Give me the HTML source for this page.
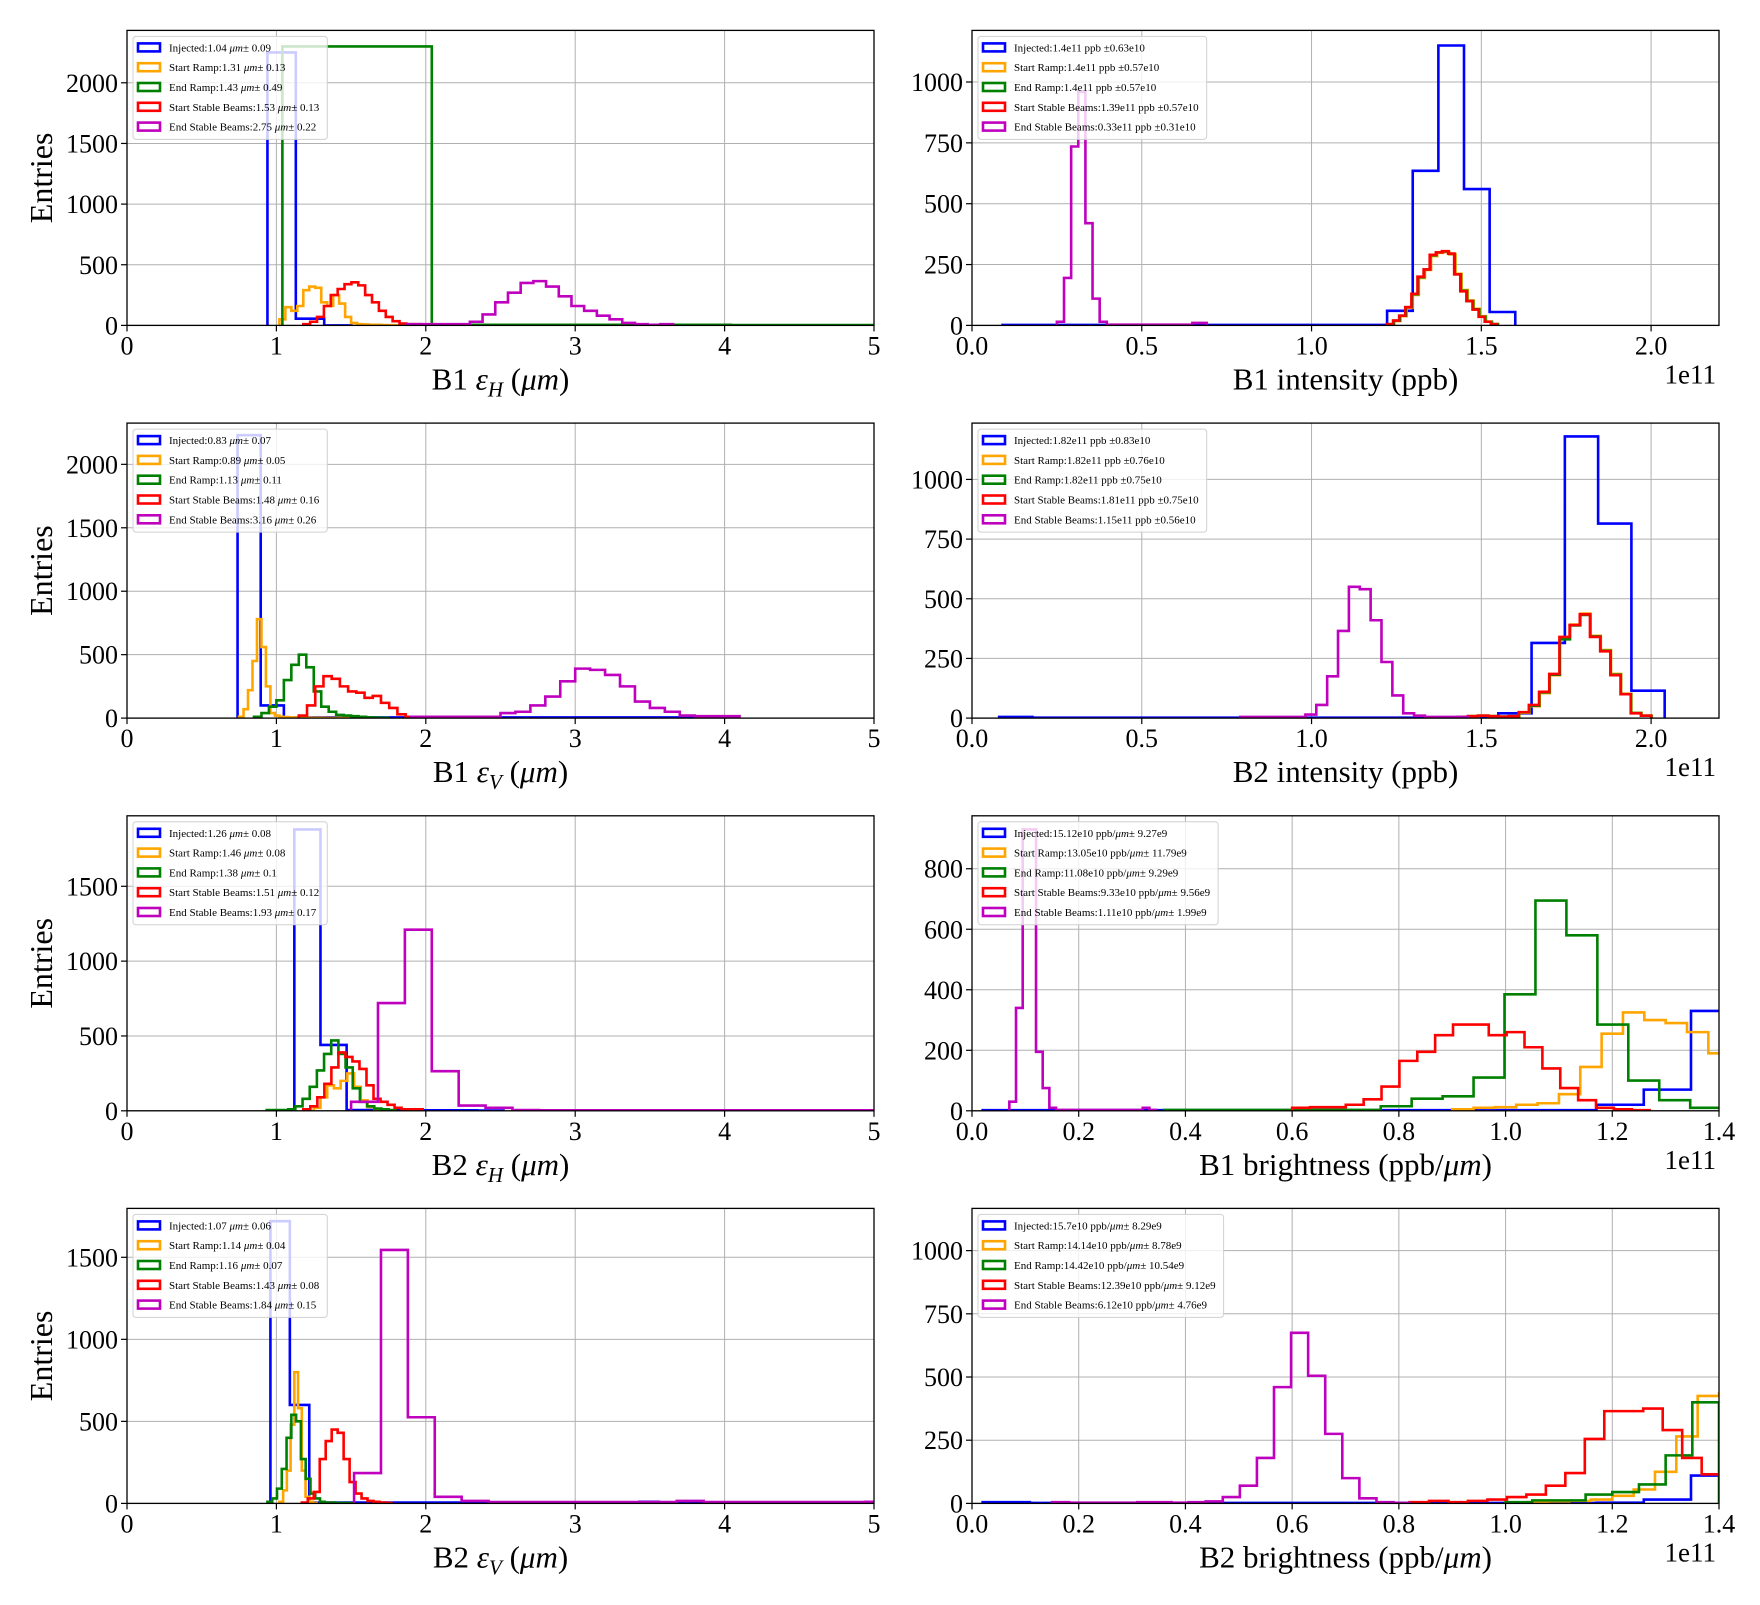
<!DOCTYPE html>
<html><head><meta charset="utf-8"><style>
html,body{margin:0;padding:0;background:#fff;}
svg text{font-family:"Liberation Serif","DejaVu Serif",serif;}
</style></head><body>
<svg id="fig" xmlns="http://www.w3.org/2000/svg" width="1760" height="1600" viewBox="0 0 1760 1600">
<rect x="0" y="0" width="1760" height="1600" fill="#fff"/>
</svg>
<script>
// ---- data: bin starts, bin widths, counts (order: Injected, Start Ramp, End Ramp, Start Stable, End Stable)
const p1Starts = [0.94, 1.02, 1.04, 1.18, 1.87];
const p1Widths = [0.19, 0.04, 1.0, 0.046, 0.085];
const p1Injected = [2250, 55, 0];
const p1StartRamp = [50,150,120,160,290,320,310,190,160,250,180,70,20,10,8,5,5,3,2,1];
const p1EndRamp = [2300, 5, 5, 3];
const p1StartStable = [10,30,70,160,250,300,340,355,330,250,190,120,70,35,15,10,10,8,6,5,4,3,2];
const p1EndStable = [10,10,10,10,10,30,90,190,270,350,365,320,240,160,120,80,50,20,10,5,10];

const p2Starts = [0.09, 1.226, 1.224, 1.222, 0.25];
const p2Widths = [0.0755, 0.018, 0.018, 0.018, 0.021];
const p2Injected = [2,2,2,2,2,2,2,2,2,2,2,2,2,2,2,60,635,1150,560,55];
const p2StartRamp = [5,18,38,72,125,195,228,285,298,302,292,212,145,102,68,38,16,6];
const p2EndRamp = [5,20,40,75,128,198,230,288,300,304,294,210,142,100,66,36,15,5];
const p2StartStable = [5,20,40,75,130,200,230,290,300,305,295,210,140,100,65,35,15,5];
const p2EndStable = [15,195,735,960,420,110,15,3,3,3,3,3,3,3,3,3,3,3,3,10,10];

const p3Starts = [0.74, 0.75, 0.85, 1.15, 1.9];
const p3Widths = [0.155, 0.03, 0.05, 0.055, 0.1];
const p3Injected = [2230,100,5,5,5,5,5,5,5,5,5,5,5,5,5,5,5,5,5,5];
const p3StartRamp = [10,70,220,450,780,560,250,40,20,10,8,6,5,4,3,3,2,2,2,1,1,1,1,1,1];
const p3EndRamp = [10,40,90,140,300,420,500,400,210,90,50,25,20,15,10,5,3,2];
const p3StartStable = [20,100,250,330,310,250,210,200,160,175,120,80,30,10,8,5,5,5,3];
const p3EndStable = [10,10,10,10,10,10,40,50,100,170,290,390,380,340,250,130,80,50,20,15,15,15];

const p4Starts = [0.08, 1.432, 1.431, 1.43, 0.79];
const p4Widths = [0.098, 0.03, 0.03, 0.03, 0.032];
const p4Injected = [5,2,2,2,2,2,2,2,2,2,2,2,2,2,2,20,315,1180,815,115];
const p4StartRamp = [5,8,10,8,6,8,22,50,105,180,335,392,438,345,285,185,102,22,10];
const p4EndRamp = [5,8,10,8,6,8,24,52,108,182,330,388,432,342,282,182,100,21,10];
const p4StartStable = [5,8,10,8,6,8,25,55,110,185,340,390,435,340,280,180,100,20,10];
const p4EndStable = [5,5,5,5,5,5,15,55,175,365,550,540,410,235,95,20,10,5,5,5,5];

const p5Starts = [1.12, 1.25, 0.935, 1.18, 1.5];
const p5Widths = [0.175, 0.045, 0.048, 0.047, 0.18];
const p5Injected = [1880,440,5,3,3,3,3,2];
const p5StartRamp = [20,90,170,150,200,250,160,70,25,10,5];
const p5EndRamp = [5,5,5,10,30,80,160,270,380,470,380,290,150,60,30,15,10,5];
const p5StartStable = [10,30,90,180,290,390,360,330,280,170,80,60,40,20,10,10,10];
const p5EndStable = [60,720,1210,265,35,20,5,3,3,3,3,3,3,3,3,3,3,3,3,3];

const p6Starts = [0.02, 0.9, 0.36, 0.6, 0.07];
const p6Widths = [0.0885, 0.04, 0.058, 0.0335, 0.0125];
const p6Injected = [2,2,2,2,2,2,2,2,2,2,2,2,2,20,70,330];
const p6StartRamp = [5,10,12,20,25,55,145,255,325,300,290,260,190];
const p6EndRamp = [3,3,3,3,3,3,3,15,40,48,110,385,695,580,285,100,35,10];
const p6StartStable = [10,12,12,20,38,80,165,195,250,285,285,250,260,210,140,75,35,10,5,2];
const p6EndStable = [30,340,930,930,195,75,10,3,3,3,3,3,3,3,3,3,3,3,3,3,10,3];

const p7Starts = [0.96, 1.02, 0.94, 1.17, 1.52];
const p7Widths = [0.13, 0.025, 0.032, 0.04, 0.18];
const p7Injected = [1720,600,5,5,5,5,5,5,5,5,5,5,5,5,5,5,5,5,5,10,5,5,5,5,5,5,5,5,5,5,5,5];
const p7StartRamp = [10,80,200,480,800,580,200,40,10,3];
const p7EndRamp = [10,30,90,210,400,540,500,270,150,60,30,10,5,5,3,3,2,2];
const p7StartStable = [5,30,70,270,380,450,430,270,130,60,30,15,10,5,3];
const p7EndStable = [185,1545,525,40,15,8,8,8,8,8,8,8,15,8,8,8,8,8,8,10];

const p8Starts = [0.02, 1.0, 1.0, 0.82, 0.15];
const p8Widths = [0.0885, 0.04, 0.05, 0.0365, 0.032];
const p8Injected = [5,2,2,2,2,2,2,2,2,2,2,2,2,3,15,110];
const p8StartRamp = [3,5,8,10,15,30,55,125,265,425,435];
const p8EndRamp = [5,12,12,35,45,75,190,400];
const p8StartStable = [5,10,5,10,15,25,35,70,120,255,365,365,375,290,180,115,50];
const p8EndStable = [5,3,3,3,3,5,5,3,5,8,25,70,180,460,675,505,275,100,20,5,2];

const p1Legend = ["Injected:1.04 |μm|± 0.09","Start Ramp:1.31 |μm|± 0.13","End Ramp:1.43 |μm|± 0.49","Start Stable Beams:1.53 |μm|± 0.13","End Stable Beams:2.75 |μm|± 0.22"];
const p2Legend = ["Injected:1.4e11 ppb ±0.63e10","Start Ramp:1.4e11 ppb ±0.57e10","End Ramp:1.4e11 ppb ±0.57e10","Start Stable Beams:1.39e11 ppb ±0.57e10","End Stable Beams:0.33e11 ppb ±0.31e10"];
const p3Legend = ["Injected:0.83 |μm|± 0.07","Start Ramp:0.89 |μm|± 0.05","End Ramp:1.13 |μm|± 0.11","Start Stable Beams:1.48 |μm|± 0.16","End Stable Beams:3.16 |μm|± 0.26"];
const p4Legend = ["Injected:1.82e11 ppb ±0.83e10","Start Ramp:1.82e11 ppb ±0.76e10","End Ramp:1.82e11 ppb ±0.75e10","Start Stable Beams:1.81e11 ppb ±0.75e10","End Stable Beams:1.15e11 ppb ±0.56e10"];
const p5Legend = ["Injected:1.26 |μm|± 0.08","Start Ramp:1.46 |μm|± 0.08","End Ramp:1.38 |μm|± 0.1","Start Stable Beams:1.51 |μm|± 0.12","End Stable Beams:1.93 |μm|± 0.17"];
const p6Legend = ["Injected:15.12e10 ppb/|μm|± 9.27e9","Start Ramp:13.05e10 ppb/|μm|± 11.79e9","End Ramp:11.08e10 ppb/|μm|± 9.29e9","Start Stable Beams:9.33e10 ppb/|μm|± 9.56e9","End Stable Beams:1.11e10 ppb/|μm|± 1.99e9"];
const p7Legend = ["Injected:1.07 |μm|± 0.06","Start Ramp:1.14 |μm|± 0.04","End Ramp:1.16 |μm|± 0.07","Start Stable Beams:1.43 |μm|± 0.08","End Stable Beams:1.84 |μm|± 0.15"];
const p8Legend = ["Injected:15.7e10 ppb/|μm|± 8.29e9","Start Ramp:14.14e10 ppb/|μm|± 8.78e9","End Ramp:14.42e10 ppb/|μm|± 10.54e9","Start Stable Beams:12.39e10 ppb/|μm|± 9.12e9","End Stable Beams:6.12e10 ppb/|μm|± 4.76e9"];

const emitTicks = [0,1,2,3,4,5];
const emitTickLabels = ["0","1","2","3","4","5"];
const intTicks = [0,0.5,1.0,1.5,2.0];
const intTickLabels = ["0.0","0.5","1.0","1.5","2.0"];
const brTicks = [0,0.2,0.4,0.6,0.8,1.0,1.2,1.4];
const brTickLabels = ["0.0","0.2","0.4","0.6","0.8","1.0","1.2","1.4"];

const colors = ["#0000ff","#ffa500","#008000","#ff0000","#bf00bf"];
const NS = "http://www.w3.org/2000/svg";
const svg = document.getElementById("fig");
function mk(tag, attrs, parent){ const e=document.createElementNS(NS,tag); for(const k in attrs) e.setAttribute(k,attrs[k]); (parent||svg).appendChild(e); return e; }

const LX=127, RX=972, W=747, H=295;
const TOPS=[30.4,423.1,815.8,1208.4];
const panels = [
 {id:"b1-eh", x:LX, y:TOPS[0], xmax:5, ymax:2432, yt:[0,500,1000,1500,2000], xt:emitTicks, xl:emitTickLabels, starts:p1Starts, widths:p1Widths, series:[p1Injected,p1StartRamp,p1EndRamp,p1StartStable,p1EndStable], legend:p1Legend, label:["B1 ","ε","H"," (","μm",")"], ent:true, e11:false},
 {id:"b1-intensity", x:RX, y:TOPS[0], xmax:2.2, ymax:1212, yt:[0,250,500,750,1000], xt:intTicks, xl:intTickLabels, starts:p2Starts, widths:p2Widths, series:[p2Injected,p2StartRamp,p2EndRamp,p2StartStable,p2EndStable], legend:p2Legend, label:"B1 intensity (ppb)", ent:false, e11:true},
 {id:"b1-ev", x:LX, y:TOPS[1], xmax:5, ymax:2325, yt:[0,500,1000,1500,2000], xt:emitTicks, xl:emitTickLabels, starts:p3Starts, widths:p3Widths, series:[p3Injected,p3StartRamp,p3EndRamp,p3StartStable,p3EndStable], legend:p3Legend, label:["B1 ","ε","V"," (","μm",")"], ent:true, e11:false},
 {id:"b2-intensity", x:RX, y:TOPS[1], xmax:2.2, ymax:1236, yt:[0,250,500,750,1000], xt:intTicks, xl:intTickLabels, starts:p4Starts, widths:p4Widths, series:[p4Injected,p4StartRamp,p4EndRamp,p4StartStable,p4EndStable], legend:p4Legend, label:"B2 intensity (ppb)", ent:false, e11:true},
 {id:"b2-eh", x:LX, y:TOPS[2], xmax:5, ymax:1971, yt:[0,500,1000,1500], xt:emitTicks, xl:emitTickLabels, starts:p5Starts, widths:p5Widths, series:[p5Injected,p5StartRamp,p5EndRamp,p5StartStable,p5EndStable], legend:p5Legend, label:["B2 ","ε","H"," (","μm",")"], ent:true, e11:false},
 {id:"b1-brightness", x:RX, y:TOPS[2], xmax:1.4, ymax:975, yt:[0,200,400,600,800], xt:brTicks, xl:brTickLabels, starts:p6Starts, widths:p6Widths, series:[p6Injected,p6StartRamp,p6EndRamp,p6StartStable,p6EndStable], legend:p6Legend, label:["B1 brightness (ppb/","μm",")"], ent:false, e11:true},
 {id:"b2-ev", x:LX, y:TOPS[3], xmax:5, ymax:1798, yt:[0,500,1000,1500], xt:emitTicks, xl:emitTickLabels, starts:p7Starts, widths:p7Widths, series:[p7Injected,p7StartRamp,p7EndRamp,p7StartStable,p7EndStable], legend:p7Legend, label:["B2 ","ε","V"," (","μm",")"], ent:true, e11:false},
 {id:"b2-brightness", x:RX, y:TOPS[3], xmax:1.4, ymax:1167, yt:[0,250,500,750,1000], xt:brTicks, xl:brTickLabels, starts:p8Starts, widths:p8Widths, series:[p8Injected,p8StartRamp,p8EndRamp,p8StartStable,p8EndStable], legend:p8Legend, label:["B2 brightness (ppb/","μm",")"], ent:false, e11:true}
];
const seriesNames=["injected","start-ramp","end-ramp","start-stable-beams","end-stable-beams"];

function addRich(textEl, str){
  const parts=str.split("|");
  parts.forEach((p,i)=>{ const t=mk("tspan",{},textEl); if(i%2===1) t.setAttribute("font-style","italic"); t.textContent=p; });
}

panels.forEach((P,pi)=>{
  const g=mk("g",{});
  
  
  const sx=v=>P.x+v/P.xmax*W;
  const sy=v=>P.y+H-v/P.ymax*H;
  const clipId="clip"+pi;
  const cp=mk("clipPath",{id:clipId},g); mk("rect",{x:P.x,y:P.y,width:W,height:H},cp);
  P.xt.forEach(t=>{ const l=mk("line",{x1:sx(t),x2:sx(t),y1:P.y,y2:P.y+H,stroke:"#b0b0b0","stroke-width":1},g);
      });
  P.yt.forEach(t=>{ const l=mk("line",{x1:P.x,x2:P.x+W,y1:sy(t),y2:sy(t),stroke:"#b0b0b0","stroke-width":1},g);
      });
  const hg=mk("g",{"clip-path":"url(#"+clipId+")"},g);
  P.series.forEach((counts,si)=>{
    const s0=P.starts[si], w=P.widths[si];
    let d="M"+sx(s0).toFixed(2)+","+sy(0).toFixed(2);
    counts.forEach((c,k)=>{ const xa=sx(s0+k*w), xb=sx(s0+(k+1)*w), yy=sy(c);
      d+=" L"+xa.toFixed(2)+","+yy.toFixed(2)+" L"+xb.toFixed(2)+","+yy.toFixed(2); });
    d+=" L"+sx(s0+counts.length*w).toFixed(2)+","+sy(0).toFixed(2);
    const p=mk("path",{d:d,fill:"none",stroke:colors[si],"stroke-width":2.6,"stroke-linejoin":"miter"},hg);
    
    
  });
  const fr=mk("rect",{x:P.x,y:P.y,width:W,height:H,fill:"none",stroke:"#000","stroke-width":1.3},g);
   
  P.xt.forEach((t,i)=>{ mk("line",{x1:sx(t),x2:sx(t),y1:P.y+H,y2:P.y+H+6,stroke:"#000","stroke-width":1.2},g);
    const tx=mk("text",{x:sx(t),y:P.y+H+29,"font-size":26,"text-anchor":"middle",fill:"#000"},g); tx.textContent=P.xl[i];
      });
  P.yt.forEach(t=>{ mk("line",{x1:P.x-6,x2:P.x,y1:sy(t),y2:sy(t),stroke:"#000","stroke-width":1.2},g);
    const tx=mk("text",{x:P.x-9,y:sy(t)+9,"font-size":26,"text-anchor":"end",fill:"#000"},g); tx.textContent=String(t);
      });
  const xl=mk("text",{x:P.x+W/2,y:P.y+H+64,"font-size":31,"text-anchor":"middle",fill:"#000"},g);
   
  if(typeof P.label==="string"){ xl.textContent=P.label; }
  else if(P.label.length===6){
    const a=mk("tspan",{},xl); a.textContent=P.label[0];
    const b=mk("tspan",{"font-style":"italic"},xl); b.textContent=P.label[1];
    const c=mk("tspan",{"font-style":"italic","font-size":21,dy:7},xl); c.textContent=P.label[2];
    const d=mk("tspan",{dy:-7},xl); d.textContent=P.label[3];
    const e=mk("tspan",{"font-style":"italic"},xl); e.textContent=P.label[4];
    const f=mk("tspan",{},xl); f.textContent=P.label[5];
  } else {
    const a=mk("tspan",{},xl); a.textContent=P.label[0];
    const b=mk("tspan",{"font-style":"italic"},xl); b.textContent=P.label[1];
    const c=mk("tspan",{},xl); c.textContent=P.label[2];
  }
  if(P.ent){
    const yl=mk("text",{x:0,y:0,"font-size":32,"text-anchor":"middle",fill:"#000",transform:"translate(52,"+(P.y+H/2)+") rotate(-90)"},g);
    yl.textContent="Entries";
     
  }
  if(P.e11){
    const o=mk("text",{x:P.x+W-3,y:P.y+H+58,"font-size":27,"text-anchor":"end",fill:"#000"},g);
    o.textContent="1e11";
     
  }
  const lg=mk("g",{},g);
   
  const box=mk("rect",{x:P.x+6,y:P.y+6,width:200,height:103,rx:3,fill:"rgba(255,255,255,0.8)",stroke:"#d0d0d0","stroke-width":1},lg);
  let maxW=0;
  P.legend.forEach((s,i)=>{
    const cy=P.y+17+i*19.8;
    const e=mk("g",{},lg);
    
    
    mk("rect",{x:P.x+11,y:cy-4,width:22,height:8,fill:"none",stroke:colors[i],"stroke-width":2.6},e);
    const t=mk("text",{x:P.x+42,y:cy+4,"font-size":11,fill:"#000"},e);
    addRich(t,s);
    maxW=Math.max(maxW,t.getComputedTextLength());
  });
  box.setAttribute("width",Math.max(150,maxW+44));
});
</script>
</body></html>
